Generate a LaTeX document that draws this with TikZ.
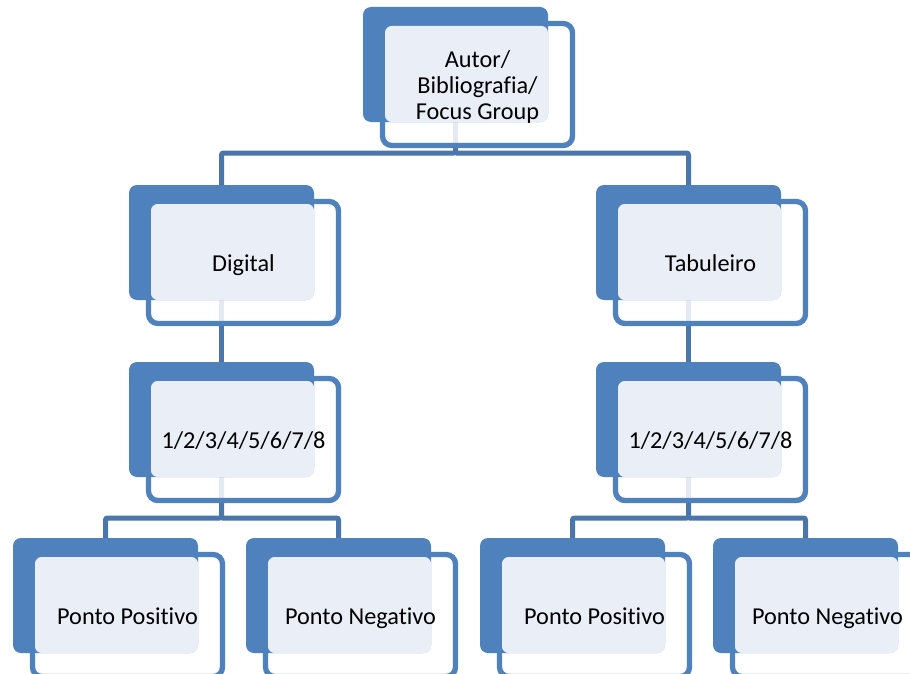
\documentclass[tikz,border=0pt]{standalone}
\usepackage{fontspec}
\setmainfont{Carlito}[Ligatures=NoCommon]
\usetikzlibrary{backgrounds}
\definecolor{boxblue}{RGB}{79,129,189}
\definecolor{linkblue}{RGB}{74,118,172}
\definecolor{paleblue}{RGB}{234,239,247}
\tikzset{
  backbox/.style={fill=boxblue,rounded corners=6pt,minimum width=138.75pt,minimum height=86.25pt,inner sep=0pt,outer sep=0pt,anchor=north west},
  frontbox/.style={draw=boxblue,line width=4pt,fill=white,fill opacity=.85,rounded corners=7pt,minimum width=142.5pt,minimum height=91.5pt,inner sep=0pt,outer sep=0pt,anchor=north west},
  tiletext/.style={font=\fontsize{18.2}{19.5}\selectfont,align=center,inner sep=0pt},
  link/.style={draw=linkblue,line width=3.75pt,rounded corners=1.5pt}
}
% one tile: name, top-left corner of the dark box, text
\newcommand{\tile}[4]{%
  \node[frontbox] (#1f) at ([shift={(19.5,16.5)}]#2,#3) {};
  \node[backbox] (#1b) at (#2,#3) {};
  \fill[paleblue,rounded corners=5pt] ([shift={(2.5,2.5)}]#1f.north west) rectangle (#1b.south east);
  \node[tiletext] (#1t) at ([yshift=-2.5pt]#1f.center) {\strut#4\strut};
}
\begin{document}
\begin{tikzpicture}[x=.75pt,y=-.75pt]
\useasboundingbox (0,0) rectangle (910,674);
\clip (0,0) rectangle (910,674);

\tile{top}{363}{7}{Autor/\\Bibliografia/\\Focus Group}
\tile{dig}{129}{185}{Digital}
\tile{tab}{596}{185}{Tabuleiro}
\tile{numl}{129}{362}{1/2/3/4/5/6/7/8}
\tile{numr}{596}{362}{1/2/3/4/5/6/7/8}
\tile{posl}{13}{538}{Ponto Positivo}
\tile{negl}{246}{538}{Ponto Negativo}
\tile{posr}{480}{538}{Ponto Positivo}
\tile{negr}{713}{538}{Ponto Negativo}

\begin{pgfonlayer}{background}
\draw[link] (topb.south) -- ++(0,31) coordinate (topj) -| (digb.north);
\draw[link] (topj) -| (tabb.north);
\draw[link] (digb.south) -- (numlb.north);
\draw[link] (tabb.south) -- (numrb.north);
\draw[link] (numlb.south) -- ++(0,41) coordinate (numlj) -| (poslb.north);
\draw[link] (numlj) -| (neglb.north);
\draw[link] (numrb.south) -- ++(0,41) coordinate (numrj) -| (posrb.north);
\draw[link] (numrj) -| (negrb.north);
\end{pgfonlayer}
\end{tikzpicture}
\end{document}
